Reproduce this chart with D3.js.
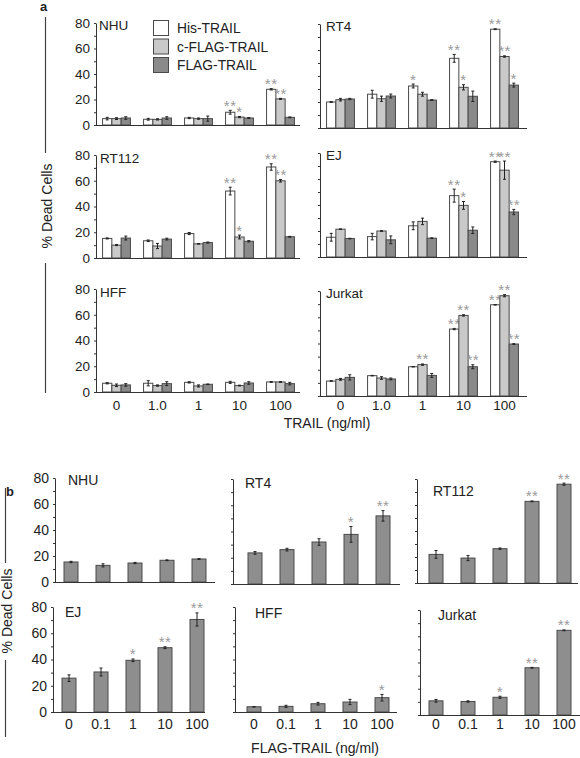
<!DOCTYPE html>
<html><head><meta charset="utf-8">
<script src="https://cdn.jsdelivr.net/npm/d3@7"></script>
<style>
body{margin:0;background:#fff}
text{font-family:"Liberation Sans",Arial,Helvetica,sans-serif;fill:#222}
</style>
</head><body>
<svg id="c" width="580" height="758"></svg>
<script>
// ---------- DATA ----------
const dosesA = ["0", "1.0", "1", "10", "100"];
const dosesB = ["0", "0.1", "1", "10", "100"];
const seriesA = ["His-TRAIL", "c-FLAG-TRAIL", "FLAG-TRAIL"];
const yTickValues = [0, 10, 20, 30, 40, 50, 60, 70, 80];

// Panel a: [His, c-FLAG, FLAG] per dose
const aNHU_mean = [[5, 4.5, 5.5, 10, 28], [5, 4.4, 5, 6.2, 20.5], [5.5, 5.5, 5, 5.5, 6]];
const aNHU_err  = [[1, 0.7, 0.5, 1.5, 0.5], [0.7, 0.5, 0.5, 0.5, 0.4], [1, 1, 2, 0.3, 0.3]];
const aNHU_star = [["", "", "", "**", "**"], ["", "", "", "*", "**"], ["", "", "", "", ""]];

const aRT4_mean = [[20, 26, 32.3, 53.6, 76], [21.8, 22.5, 26, 31.3, 55], [22.3, 24.6, 21.5, 24.4, 33]];
const aRT4_err  = [[0.3, 3, 1.5, 3, 0.3], [1, 2, 1.5, 2, 0.5], [0.5, 1.5, 0.3, 4, 1.5]];
const aRT4_star = [["", "", "*", "**", "**"], ["", "", "", "*", "**"], ["", "", "", "", "*"]];

const aRT112_mean = [[15.2, 13.4, 19, 52, 70.7], [10, 9.3, 11, 16.3, 60], [15.5, 14.7, 12, 13, 16.5]];
const aRT112_err  = [[0.4, 0.6, 0.8, 3, 2.5], [0.4, 2, 0.2, 1.5, 1], [1.5, 0.7, 0.4, 0.5, 0.3]];
const aRT112_star = [["", "", "", "**", "**"], ["", "", "", "*", "**"], ["", "", "", "", ""]];

const aEJ_mean = [[15.2, 15.7, 24, 47.2, 73.3], [21.4, 20, 27.4, 39.7, 66.8], [14.2, 13.2, 14.5, 20.6, 34.6]];
const aEJ_err  = [[3, 2.5, 3, 5, 0.5], [0.2, 0.2, 2.5, 3, 7], [0.2, 3, 0.2, 2.5, 2]];
const aEJ_star = [["", "", "", "**", "**"], ["", "", "", "*", "**"], ["", "", "", "", "**"]];

const aHFF_mean = [[6.8, 6.8, 7.5, 7.5, 7.8], [5.2, 5, 4.7, 5, 7.8], [5.5, 6.5, 6, 7, 6.5]];
const aHFF_err  = [[0.5, 2, 0.5, 0.8, 0.3], [1, 0.5, 0.8, 0.3, 0.3], [1, 1.5, 0.2, 1, 1]];
const aHFF_star = [["", "", "", "", ""], ["", "", "", "", ""], ["", "", "", "", ""]];

const aJurkat_mean = [[11.4, 15.5, 22.3, 51, 69.5], [12.7, 13.7, 23.9, 61.4, 76.4], [14.2, 13, 15.7, 22.3, 39.6]];
const aJurkat_err  = [[0.2, 0.2, 0.2, 0.5, 0.2], [0.7, 1, 0.5, 0.5, 0.8], [2, 0.7, 1.5, 1.5, 0.2]];
const aJurkat_star = [["", "", "", "**", "**"], ["", "", "**", "**", "**"], ["", "", "", "**", "**"]];

// Panel b: FLAG-TRAIL only
const bNHU_mean = [15.4, 12.8, 14.6, 16.7, 17.7];
const bNHU_err  = [0.5, 1.2, 0.5, 0.3, 0.3];
const bNHU_star = ["", "", "", "", ""];
const bRT4_mean = [23.7, 26.2, 32, 37.8, 51.9];
const bRT4_err  = [1, 1, 2.5, 6, 4];
const bRT4_star = ["", "", "", "*", "**"];
const bRT112_mean = [22, 19.2, 26.4, 62.8, 76];
const bRT112_err  = [3, 2, 0.5, 0.3, 0.8];
const bRT112_star = ["", "", "", "**", "**"];
const bEJ_mean = [25.8, 30.5, 39.4, 49, 70.5];
const bEJ_err  = [2.5, 3, 1, 0.7, 5];
const bEJ_star = ["", "", "*", "**", "**"];
const bHFF_mean = [4, 4.3, 6.3, 7.6, 10.9];
const bHFF_err  = [0.2, 0.8, 1, 2, 2.5];
const bHFF_star = ["", "", "", "", "*"];
const bJurkat_mean = [10.8, 10.3, 13.5, 36, 64.5];
const bJurkat_err  = [1, 0.5, 0.8, 0.3, 0.3];
const bJurkat_star = ["", "", "*", "**", "**"];

// ---------- STYLE / LAYOUT ----------
const fillA = ["#ffffff", "#c9c9c9", "#8a8a8a"];
const fillB = "#8e8e8e";
const barStroke = "#4a4a4a";
const axisColor = "#333";
const starColor = "#9a9a9a";

const svg = d3.select("#c");

const layoutA = [
  {name: "NHU", mean: aNHU_mean, err: aNHU_err, star: aNHU_star, ax: 96, end: 300, y0: 125, y1: 23, lab: true, xl: false, nx: 99, ny: 30},
  {name: "RT4", mean: aRT4_mean, err: aRT4_err, star: aRT4_star, ax: 320, end: 527, y0: 128, y1: 24, lab: false, xl: false, nx: 326, ny: 31},
  {name: "RT112", mean: aRT112_mean, err: aRT112_err, star: aRT112_star, ax: 96, end: 300, y0: 258, y1: 155, lab: true, xl: false, nx: 100, ny: 163},
  {name: "EJ", mean: aEJ_mean, err: aEJ_err, star: aEJ_star, ax: 320, end: 527, y0: 257, y1: 153, lab: false, xl: false, nx: 326, ny: 160},
  {name: "HFF", mean: aHFF_mean, err: aHFF_err, star: aHFF_star, ax: 96, end: 300, y0: 392, y1: 289, lab: true, xl: true, nx: 100, ny: 297},
  {name: "Jurkat", mean: aJurkat_mean, err: aJurkat_err, star: aJurkat_star, ax: 320, end: 527, y0: 396, y1: 291, lab: false, xl: true, nx: 326, ny: 298}
];

const layoutB = [
  {name: "NHU", mean: bNHU_mean, err: bNHU_err, star: bNHU_star, ax: 55, bx: 55, end: 215, y0: 582, y1: 478, lab: true, xl: false, nx: 68, ny: 485},
  {name: "RT4", mean: bRT4_mean, err: bRT4_err, star: bRT4_star, ax: 233, bx: 239, end: 400, y0: 584, y1: 479, lab: false, xl: false, nx: 245, ny: 488},
  {name: "RT112", mean: bRT112_mean, err: bRT112_err, star: bRT112_star, ax: 417, bx: 420, end: 578, y0: 583, y1: 479, lab: false, xl: false, nx: 433, ny: 496},
  {name: "EJ", mean: bEJ_mean, err: bEJ_err, star: bEJ_star, ax: 53, bx: 53, end: 205, y0: 712, y1: 607, lab: true, xl: true, nx: 65, ny: 617},
  {name: "HFF", mean: bHFF_mean, err: bHFF_err, star: bHFF_star, ax: 235, bx: 238, end: 397, y0: 712, y1: 607, lab: false, xl: true, nx: 255, ny: 618},
  {name: "Jurkat", mean: bJurkat_mean, err: bJurkat_err, star: bJurkat_star, ax: 420, bx: 420, end: 580, y0: 715, y1: 610, lab: false, xl: true, nx: 438, ny: 620}
];

function yAxis(g, p, y, tickLabelSize) {
  const ax = g.append("g").attr("transform", `translate(${p.ax},0)`)
    .call(d3.axisLeft(y).tickValues(yTickValues).tickSize(2).tickSizeOuter(0).tickPadding(4)
      .tickFormat(d => (p.lab && d % 20 === 0) ? d : ""));
  ax.select(".domain").attr("stroke", axisColor);
  ax.selectAll(".tick line").attr("stroke", axisColor);
  ax.selectAll(".tick text").attr("font-family", null).style("font-size", tickLabelSize + "px").attr("fill", "#222");
  g.append("line").attr("x1", p.ax).attr("x2", p.end).attr("y1", p.y0 + 0.5).attr("y2", p.y0 + 0.5)
    .attr("stroke", axisColor).attr("stroke-width", 1.2);
}

function errBar(g, cx, yTop, yBot, cap) {
  g.append("line").attr("x1", cx).attr("x2", cx).attr("y1", yTop).attr("y2", yBot).attr("stroke", "#222").attr("stroke-width", 1);
  g.append("line").attr("x1", cx - cap).attr("x2", cx + cap).attr("y1", yTop).attr("y2", yTop).attr("stroke", "#222").attr("stroke-width", 1);
  g.append("line").attr("x1", cx - cap).attr("x2", cx + cap).attr("y1", yBot).attr("y2", yBot).attr("stroke", "#222").attr("stroke-width", 1);
}

function star(g, cx, yTop, s) {
  if (!s) return;
  g.append("text").attr("x", cx).attr("y", yTop + 0.5).attr("text-anchor", "middle")
    .style("font-size", "15px").style("letter-spacing", "0.5px").style("fill", starColor).text(s);
}

// ---- panel a ----
layoutA.forEach(p => {
  const g = svg.append("g");
  const y = d3.scaleLinear().domain([0, 80]).range([p.y0, p.y1]);
  const x = d3.scaleBand().domain(dosesA).range([p.ax, p.ax + 205]).paddingInner(0.32).paddingOuter(0.16);
  const xs = d3.scaleBand().domain(seriesA).range([0, x.bandwidth()]);
  seriesA.forEach((s, si) => {
    dosesA.forEach((d, di) => {
      const v = p.mean[si][di], e = p.err[si][di];
      const bx = x(d) + xs(s);
      g.append("rect").attr("x", bx).attr("y", y(v)).attr("width", xs.bandwidth()).attr("height", y(0) - y(v))
        .attr("fill", fillA[si]).attr("stroke", barStroke).attr("stroke-width", 1);
      const cx = bx + xs.bandwidth() / 2;
      errBar(g, cx, y(v + e), y(v - e), 1.5);
      star(g, cx, y(v + e), p.star[si][di]);
    });
  });
  yAxis(g, p, y, 13.5);
  g.append("text").attr("x", p.nx).attr("y", p.ny).style("font-size", "13.5px").text(p.name);
  if (p.xl) {
    dosesA.forEach(d => g.append("text").attr("x", x(d) + x.bandwidth() / 2).attr("y", 409.5)
      .attr("text-anchor", "middle").style("font-size", "13.5px").text(d));
  }
});

// legend (panel a)
const lg = svg.append("g");
seriesA.forEach((s, i) => {
  lg.append("rect").attr("x", 153.5).attr("y", 20.5 + i * 18.5).attr("width", 15).attr("height", 15)
    .attr("fill", fillA[i]).attr("stroke", barStroke).attr("stroke-width", 1);
  lg.append("text").attr("x", 177).attr("y", 33 + i * 18.5).style("font-size", "13.8px").text(s);
});

// ---- panel b ----
layoutB.forEach(p => {
  const g = svg.append("g");
  const y = d3.scaleLinear().domain([0, 80]).range([p.y0, p.y1]);
  const x = d3.scaleBand().domain(dosesB).range([p.bx, p.bx + 160]).paddingInner(0.5625).paddingOuter(0.28125);
  dosesB.forEach((d, di) => {
    const v = p.mean[di], e = p.err[di];
    g.append("rect").attr("x", x(d)).attr("y", y(v)).attr("width", x.bandwidth()).attr("height", y(0) - y(v))
      .attr("fill", fillB).attr("stroke", barStroke).attr("stroke-width", 1);
    const cx = x(d) + x.bandwidth() / 2;
    errBar(g, cx, y(v + e), y(v - e), 1.5);
    star(g, cx, y(v + e), p.star[di]);
  });
  yAxis(g, p, y, 14);
  g.append("text").attr("x", p.nx).attr("y", p.ny).style("font-size", "14px").text(p.name);
  if (p.xl) {
    dosesB.forEach(d => g.append("text").attr("x", x(d) + x.bandwidth() / 2).attr("y", 729)
      .attr("text-anchor", "middle").style("font-size", "14px").text(d));
  }
});

// ---- labels and decorations ----
svg.append("text").attr("x", 40).attr("y", 11).style("font-size", "13px").style("font-weight", "bold").text("a");
svg.append("text").attr("x", 6).attr("y", 496).style("font-size", "13px").style("font-weight", "bold").text("b");

svg.append("text").attr("x", 327).attr("y", 428).attr("text-anchor", "middle").style("font-size", "14px").text("TRAIL (ng/ml)");
svg.append("text").attr("x", 315).attr("y", 753).attr("text-anchor", "middle").style("font-size", "14px").text("FLAG-TRAIL (ng/ml)");

function yLabel(x, y, l1, l2) {
  svg.append("text").attr("transform", `translate(${x},${y}) rotate(-90)`).attr("text-anchor", "middle")
    .style("font-size", "14px").text("% Dead Cells");
  [l1, l2].forEach(l => svg.append("line").attr("x1", l[0]).attr("x2", l[0]).attr("y1", l[1]).attr("y2", l[2])
    .attr("stroke", "#444").attr("stroke-width", 1.2));
}
yLabel(52, 206, [45.5, 17, 153], [45.5, 263, 393]);
yLabel(11.5, 611, [5.5, 488, 563], [5.5, 660, 737]);
</script>
</body></html>
